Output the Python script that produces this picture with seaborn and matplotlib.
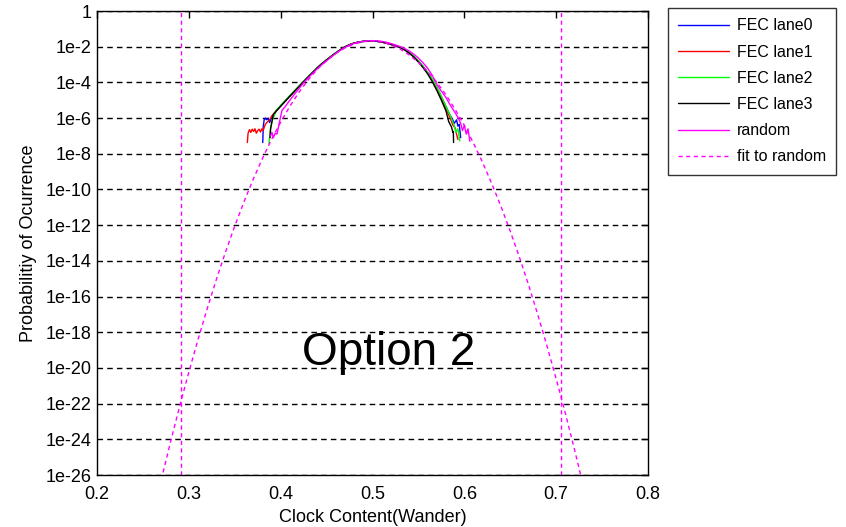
import numpy as np
import matplotlib
matplotlib.use("Agg")
import matplotlib.pyplot as plt
from matplotlib.ticker import NullLocator
import seaborn as sns

# ---------------- data (log10 of probability) ----------------
core_x = [0.395, 0.400, 0.405, 0.410, 0.415, 0.420, 0.425, 0.430, 0.435, 0.440,
          0.445, 0.450, 0.455, 0.460, 0.465, 0.470, 0.475, 0.480, 0.485, 0.490,
          0.495, 0.500, 0.505, 0.510, 0.515, 0.520, 0.525, 0.530, 0.535, 0.540,
          0.545, 0.550, 0.555, 0.560, 0.565, 0.570, 0.575, 0.580]

lane0_left_x = [0.3805, 0.381, 0.382, 0.3835, 0.385, 0.3865, 0.388, 0.3895, 0.391, 0.393]
lane0_left_y = [-7.37, -6.5, -6.1, -6.0, -6.1, -6.0, -6.25, -6.05, -5.95, -5.8]
lane0_core_y = [-5.61, -5.33, -5.05, -4.77, -4.50, -4.23, -3.96, -3.69, -3.43, -3.18,
                -2.95, -2.74, -2.54, -2.35, -2.17, -2.01, -1.89, -1.80, -1.74, -1.70,
                -1.68, -1.68, -1.70, -1.74, -1.80, -1.87, -1.95, -2.04, -2.17, -2.34,
                -2.55, -2.81, -3.10, -3.44, -3.82, -4.28, -4.80, -5.35]
lane0_right_x = [0.5845, 0.587, 0.589, 0.5915, 0.593, 0.5945, 0.596]
lane0_right_y = [-5.85, -6.05, -6.3, -6.1, -6.45, -6.35, -7.1]

lane1_left_x = [0.3637, 0.3645, 0.366, 0.3675, 0.369, 0.3705, 0.372, 0.3735, 0.375, 0.3765,
                0.378, 0.3795, 0.381, 0.3825, 0.384, 0.386, 0.388, 0.390, 0.3925]
lane1_left_y = [-7.37, -6.85, -6.65, -6.8, -6.62, -6.75, -6.6, -6.85, -6.7, -6.62,
                -6.78, -6.6, -6.7, -6.45, -6.3, -6.2, -6.1, -5.9, -5.75]
lane1_core_y = [-5.60, -5.32, -5.05, -4.77, -4.50, -4.23, -3.96, -3.69, -3.43, -3.18,
                -2.95, -2.74, -2.54, -2.35, -2.17, -2.01, -1.89, -1.80, -1.74, -1.70,
                -1.68, -1.68, -1.70, -1.74, -1.80, -1.87, -1.95, -2.04, -2.17, -2.35,
                -2.57, -2.84, -3.14, -3.48, -3.88, -4.36, -4.90, -5.50]
lane1_right_x = [0.585, 0.5875, 0.590, 0.5915, 0.593]
lane1_right_y = [-6.05, -6.4, -6.55, -6.9, -7.2]

lane2_left_x = [0.387, 0.3875, 0.389, 0.391, 0.393]
lane2_left_y = [-7.4, -7.3, -6.6, -6.1, -5.85]
lane2_core_y = [-5.57, -5.29, -5.01, -4.74, -4.47, -4.20, -3.94, -3.67, -3.41, -3.17,
                -2.94, -2.73, -2.53, -2.34, -2.17, -2.01, -1.89, -1.80, -1.74, -1.70,
                -1.68, -1.68, -1.70, -1.73, -1.79, -1.86, -1.94, -2.03, -2.16, -2.33,
                -2.54, -2.80, -3.09, -3.42, -3.80, -4.25, -4.78, -5.35]
lane2_right_x = [0.585, 0.5885, 0.591, 0.593, 0.595]
lane2_right_y = [-5.9, -6.35, -6.8, -6.6, -7.28]

lane3_left_x = [0.3884, 0.389, 0.3905, 0.392]
lane3_left_y = [-7.1, -6.6, -6.2, -5.8]
lane3_core_y = [-5.62, -5.33, -5.05, -4.77, -4.50, -4.23, -3.96, -3.69, -3.43, -3.18,
                -2.95, -2.74, -2.54, -2.35, -2.17, -2.01, -1.89, -1.80, -1.74, -1.70,
                -1.68, -1.68, -1.70, -1.74, -1.80, -1.87, -1.95, -2.04, -2.18, -2.36,
                -2.58, -2.86, -3.17, -3.52, -3.95, -4.45, -5.00, -5.60]
lane3_right_x = [0.583, 0.586, 0.5875, 0.588, 0.5883]
lane3_right_y = [-6.2, -6.5, -6.8, -6.75, -7.37]

random_x = [0.389, 0.3905, 0.392, 0.394, 0.396, 0.398, 0.400, 0.4015, 0.405, 0.410,
            0.416, 0.420, 0.425, 0.430, 0.435, 0.440, 0.445, 0.450, 0.455, 0.460,
            0.465, 0.470, 0.475, 0.480, 0.485, 0.490, 0.495, 0.500, 0.505, 0.510,
            0.515, 0.520, 0.525, 0.530, 0.535, 0.540, 0.545, 0.550, 0.555, 0.560,
            0.565, 0.570, 0.575, 0.580, 0.585, 0.590, 0.5935, 0.596, 0.598, 0.600,
            0.602, 0.604, 0.606]
random_y = [-7.0, -6.8, -7.1, -6.85, -6.9, -6.4, -5.9, -5.56, -5.35, -5.0,
            -4.6, -4.35, -4.02, -3.75, -3.48, -3.23, -3.0, -2.79, -2.58, -2.38,
            -2.2, -2.04, -1.91, -1.81, -1.74, -1.70, -1.67, -1.66, -1.67, -1.70,
            -1.75, -1.82, -1.90, -1.99, -2.10, -2.24, -2.42, -2.64, -2.90, -3.20,
            -3.60, -4.10, -4.50, -4.85, -5.30, -5.70, -6.0, -6.3, -6.7, -6.4,
            -6.9, -6.6, -7.3]

fit_x = [0.27, 0.28, 0.29, 0.30, 0.31, 0.32, 0.33, 0.34, 0.35, 0.36, 0.37, 0.38,
         0.39, 0.40, 0.41, 0.42, 0.43, 0.44, 0.45, 0.46, 0.47, 0.48, 0.49, 0.50,
         0.51, 0.52, 0.53, 0.54, 0.55, 0.56, 0.57, 0.58, 0.59, 0.60, 0.61, 0.62,
         0.63, 0.64, 0.65, 0.66, 0.67, 0.68, 0.69, 0.70, 0.71, 0.72, 0.73]
fit_y = [-26.27, -24.16, -22.15, -20.23, -18.41, -16.68, -15.04, -13.50, -12.05, -10.70,
         -9.44, -8.28, -7.20, -6.23, -5.34, -4.55, -3.86, -3.26, -2.78, -2.38,
         -2.07, -1.85, -1.72, -1.68, -1.74, -1.89, -2.13, -2.46, -2.88, -3.39,
         -3.99, -4.70, -5.51, -6.41, -7.41, -8.50, -9.69, -10.96, -12.34, -13.80,
         -15.36, -17.02, -18.77, -20.61, -22.54, -24.58, -26.70]

threshold_x = [0.2918, 0.705]

ytick_exp = list(range(0, -27, -2))
ytick_labels = ["1"] + [f"1e{e}" for e in ytick_exp[1:]]
xticks = [0.2, 0.3, 0.4, 0.5, 0.6, 0.7, 0.8]

lanes = [
    ("FEC lane0", "#0000ff", lane0_left_x, lane0_left_y, lane0_core_y, lane0_right_x, lane0_right_y),
    ("FEC lane1", "#ff0000", lane1_left_x, lane1_left_y, lane1_core_y, lane1_right_x, lane1_right_y),
    ("FEC lane2", "#00ff00", lane2_left_x, lane2_left_y, lane2_core_y, lane2_right_x, lane2_right_y),
    ("FEC lane3", "#000000", lane3_left_x, lane3_left_y, lane3_core_y, lane3_right_x, lane3_right_y),
]

# ---------------- plot ----------------
sns.set_style("white")
plt.rcParams["font.family"] = ["Liberation Sans", "DejaVu Sans"]
plt.rcParams["text.color"] = "black"
plt.rcParams["axes.labelcolor"] = "black"
plt.rcParams["xtick.color"] = "black"
plt.rcParams["ytick.color"] = "black"

fig = plt.figure(figsize=(8.46, 5.27), dpi=100)
ax = fig.add_axes([97 / 846, 52 / 527, 551 / 846, 464 / 527])
ax.set_yscale("log")

for name, col, lx, ly, cy, rx, ry in lanes:
    xs = list(lx) + list(core_x) + list(rx)
    ys = 10.0 ** np.array(list(ly) + list(cy) + list(ry))
    sns.lineplot(x=xs, y=ys, color=col, lw=1.0, ax=ax, label=name,
                 estimator=None, sort=False)

sns.lineplot(x=random_x, y=10.0 ** np.array(random_y), color="#ff00ff", lw=1.0,
             ax=ax, label="random", estimator=None, sort=False)
sns.lineplot(x=fit_x, y=10.0 ** np.array(fit_y), color="#ff00ff", lw=1.0,
             linestyle=(0, (3, 2.5)), ax=ax, label="fit to random",
             estimator=None, sort=False)

for tx in threshold_x:
    ax.axvline(tx, color="#ff00ff", lw=1.0, linestyle=(0, (3, 2.5)))

ax.set_xlim(0.2, 0.8)
ax.set_ylim(1e-26, 1)
ax.set_xticks(xticks)
ax.set_xticklabels([f"{t:.1f}" for t in xticks])
ax.set_yticks([10.0 ** e for e in ytick_exp])
ax.set_yticklabels(ytick_labels)
ax.yaxis.set_minor_locator(NullLocator())
ax.xaxis.set_minor_locator(NullLocator())

ax.yaxis.grid(True, color="black", linestyle=(0, (4, 3)), lw=1.0)
ax.xaxis.grid(False)
ax.set_axisbelow(True)

ax.tick_params(direction="in", top=True, right=True, length=5, width=1,
               labelsize=13, colors="black")
ax.tick_params(axis="x", pad=8)
ax.tick_params(axis="y", pad=4)
for sp in ax.spines.values():
    sp.set_color("black")
    sp.set_linewidth(1.0)

ax.set_xlabel("Clock Content(Wander)", fontsize=13, labelpad=4, color="black")
ax.set_ylabel("Probabilitiy of Ocurrence", fontsize=13, labelpad=6, color="black")

ax.text(0.518, 10 ** -19.83, "Option 2", fontsize=33, ha="center",
        va="baseline", color="black")

leg = ax.legend(loc="upper left", bbox_to_anchor=(668 / 846, 1 - 8 / 527),
                bbox_transform=fig.transFigure, frameon=True, fancybox=False,
                edgecolor="black", fontsize=11.5, handlelength=3.2,
                borderpad=0.65, labelspacing=0.7, handletextpad=0.45,
                borderaxespad=0.0)
leg.get_frame().set_linewidth(1.0)
for t in leg.get_texts():
    t.set_color("black")

fig.savefig("out.png", dpi=100)
